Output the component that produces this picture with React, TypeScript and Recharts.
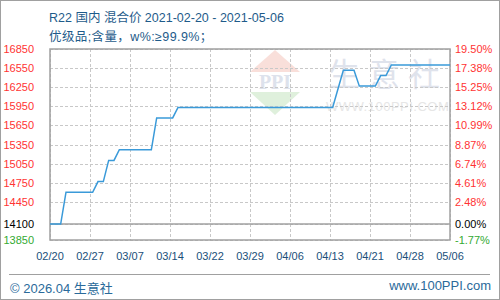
import React from 'react';
import { LineChart, Line, XAxis, YAxis } from 'recharts';

// days since 02/20 and the price on that day (only where the line bends)
const dayIndex = [0, 2, 3, 8, 9, 10, 11, 12, 13, 19, 20, 23, 24, 53, 55, 57, 58, 61, 62, 63, 64, 75];
const price = [
  14100, 14100, 14600, 14600, 14767, 14767, 15100, 15100, 15267, 15267, 15767,
  15767, 15933, 15933, 16517, 16517, 16267, 16267, 16433, 16433, 16600, 16600
];

const xTickLabels = ['02/20', '02/27', '03/07', '03/14', '03/22', '03/29', '04/06', '04/13', '04/21', '04/28', '05/06'];
const xTickDays = [0, 7.5, 15, 22.5, 30, 37.5, 45, 52.5, 60, 67.5, 75];
const yTicks = [13850, 14100, 14450, 14750, 15050, 15350, 15650, 15950, 16250, 16550, 16850];
const basePrice = 14100;
const xDomain = [0, 75];
const yDomain = [13850, 16850];

const TITLE = 'R22 国内 混合价 2021-02-20 - 2021-05-06';
const SUBTITLE = '优级品;含量，w%:≥99.9%；';

const chartData = dayIndex.map((d, i) => ({ day: d, price: price[i] }));

// plot box of the chart below (from its margins and axis sizes)
const W = 500;
const H = 300;
const M = { top: 49, right: 0, left: 0, bottom: 40 };
const AXIS_W = 50;
const AXIS_H = 20;
const plotL = M.left + AXIS_W;
const plotR = W - M.right - AXIS_W;
const plotT = M.top;
const plotB = H - M.bottom - AXIS_H;
const px = (d: number) => plotL + ((d - xDomain[0]) / (xDomain[1] - xDomain[0])) * (plotR - plotL);
const py = (v: number) => plotT + ((yDomain[1] - v) / (yDomain[1] - yDomain[0])) * (plotB - plotT);

const tickColor = (v: number) => (v > basePrice ? '#ff3333' : v === basePrice ? '#000000' : '#33aa33');

const LeftTick = ({ x, y, payload }: any) => (
  <text x={x} y={y} dy={4} textAnchor="end" fill={tickColor(payload.value)} fontSize={11} fontFamily="'Liberation Sans', sans-serif">
    {payload.value}
  </text>
);

const RightTick = ({ x, y, payload }: any) => {
  const pct = ((payload.value - basePrice) / basePrice) * 100;
  return (
    <text x={x} y={y} dy={4} textAnchor="start" fill={tickColor(payload.value)} fontSize={11} fontFamily="'Liberation Sans', sans-serif">
      {pct.toFixed(2) + '%'}
    </text>
  );
};

// watermark, grid and frame, drawn under the chart
const Backdrop = () => (
  <svg width={W} height={H} style={{ position: 'absolute', left: 0, top: 0 }}>
    <polygon points="275,50 250,72 300,72" fill="#f9dfda" />
    <polygon points="250,92 300,92 275,115" fill="#dff0dc" />
    <text x={275} y={89} textAnchor="middle" fontSize={20} fontWeight="bold" fill="#dde2ec" fontFamily="'Liberation Serif', serif">PPI</text>
    <text x={328} y={86} fontSize={32} fill="#dfe3ec" letterSpacing={8} fontFamily="'Noto Sans CJK SC', sans-serif">生意社</text>
    <text x={326} y={111} fontSize={13} fill="#e6e6e6" letterSpacing={0.5} fontFamily="'Liberation Sans', sans-serif">WWW.100PPI.COM</text>
    {yTicks.map((v) => (
      <line key={'h' + v} x1={plotL} x2={plotR} y1={Math.round(py(v)) + 0.5} y2={Math.round(py(v)) + 0.5} stroke="#c8c8c8" strokeDasharray="3 2" />
    ))}
    {xTickDays.map((d) => (
      <line key={'v' + d} x1={Math.round(px(d)) + 0.5} x2={Math.round(px(d)) + 0.5} y1={plotT} y2={plotB} stroke="#c8c8c8" strokeDasharray="3 2" />
    ))}
    <line x1={plotL} x2={plotR} y1={py(basePrice)} y2={py(basePrice)} stroke="#a0a0a0" strokeWidth={1.5} />
    <rect x={plotL} y={plotT} width={plotR - plotL} height={plotB - plotT} fill="none" stroke="#a0a0a0" strokeWidth={1.5} />
  </svg>
);

export default function App() {
  return (
    <div
      style={{
        position: 'absolute',
        left: 0,
        top: 0,
        width: W,
        height: H,
        backgroundColor: '#ffffff',
        fontFamily: "'Liberation Sans', 'Noto Sans CJK SC', sans-serif"
      }}
    >
      <Backdrop />
      <div style={{ position: 'absolute', left: 0, top: 0 }}>
        <LineChart width={W} height={H} data={chartData} margin={M}>
          <XAxis
            dataKey="day"
            type="number"
            domain={xDomain}
            ticks={xTickDays}
            tickFormatter={(v: number) => xTickLabels[Math.round(v / 7.5)]}
            axisLine={false}
            tickLine={false}
            tickSize={0}
            tickMargin={12}
            height={AXIS_H}
            interval={0}
            tick={{ fill: '#1a4f7a', fontSize: 11, fontFamily: "'Liberation Sans', sans-serif" }}
          />
          <YAxis
            orientation="left"
            domain={yDomain}
            ticks={yTicks}
            interval={0}
            width={AXIS_W}
            axisLine={false}
            tickLine={false}
            tickSize={0}
            tickMargin={16}
            tick={<LeftTick />}
          />
          <YAxis
            yAxisId="pct"
            orientation="right"
            domain={yDomain}
            ticks={yTicks}
            interval={0}
            width={AXIS_W}
            axisLine={false}
            tickLine={false}
            tickSize={0}
            tickMargin={5}
            tick={<RightTick />}
          />
          <Line
            yAxisId="pct"
            type="linear"
            dataKey="price"
            stroke="none"
            dot={false}
            activeDot={false}
            legendType="none"
            isAnimationActive={false}
          />
          <Line
            type="linear"
            dataKey="price"
            stroke="#3a9ad9"
            strokeWidth={1.5}
            dot={false}
            isAnimationActive={false}
          />
        </LineChart>
      </div>
      <div style={{ position: 'absolute', left: 49, top: 7, fontSize: 12.5, color: '#1e5b8a', whiteSpace: 'nowrap' }}>{TITLE}</div>
      <div style={{ position: 'absolute', left: 49, top: 26, fontSize: 12.5, color: '#1e5b8a', whiteSpace: 'nowrap', letterSpacing: 0.4 }}>{SUBTITLE}</div>
      <div style={{ position: 'absolute', left: 9, top: 274, width: 481, borderTop: '1px solid #a0a0a0' }} />
      <div style={{ position: 'absolute', left: 10, top: 278, fontSize: 13, color: '#2a6a9a' }}>© 2026.04 生意社</div>
      <div style={{ position: 'absolute', right: 9, top: 278, fontSize: 13, color: '#2a6a9a' }}>www.100PPI.com</div>
      <div
        style={{
          position: 'absolute',
          left: 0,
          top: 0,
          width: W,
          height: H,
          boxSizing: 'border-box',
          border: '1px solid #a0a0a0',
          pointerEvents: 'none'
        }}
      />
    </div>
  );
}
